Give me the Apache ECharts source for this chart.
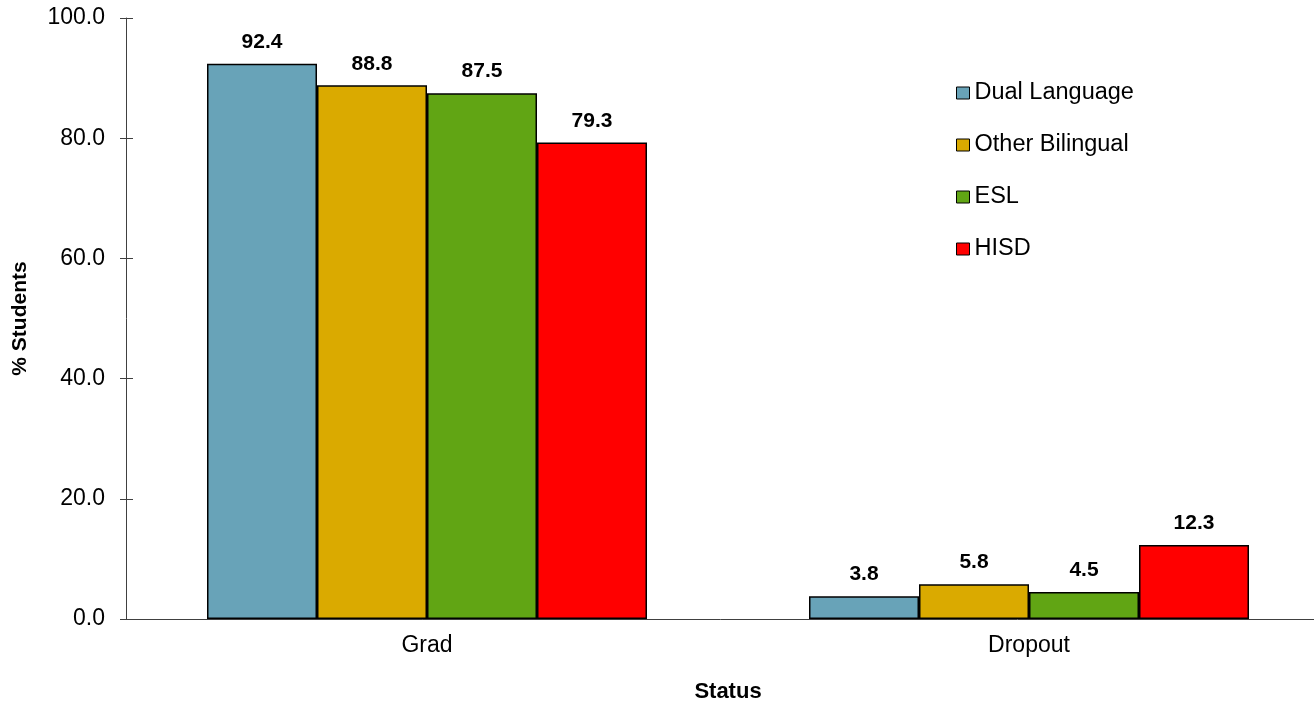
<!DOCTYPE html>
<html>
<head>
<meta charset="utf-8">
<script src="https://cdn.jsdelivr.net/npm/echarts@6/dist/echarts.min.js"></script>
<style>
html, body { margin: 0; padding: 0; background: #ffffff; }
#chart { width: 1314px; height: 704px; }
</style>
</head>
<body>
<div id="chart"></div>
<script>
// Graduation and dropout rates by program
const categories = ['Grad', 'Dropout'];
const seriesNames = ['Dual Language', 'Other Bilingual', 'ESL', 'HISD'];
const dualLanguage = [92.4, 3.8];
const otherBilingual = [88.8, 5.8];
const esl = [87.5, 4.5];
const hisd = [79.3, 12.3];
const yTicks = [0, 20, 40, 60, 80, 100];

const seriesValues = [dualLanguage, otherBilingual, esl, hisd];
const colors = ['#68A3B8', '#DAAA00', '#61A514', '#FF0000'];
const fontFamily = 'Arial, "Liberation Sans", sans-serif';
const axisColor = '#404040';

const chart = echarts.init(document.getElementById('chart'));

const yBase = {
  type: 'value',
  min: yTicks[0],
  max: yTicks[yTicks.length - 1],
  interval: yTicks[1] - yTicks[0],
  splitLine: { show: false }
};

chart.setOption({
  animation: false,
  textStyle: { fontFamily: fontFamily },
  grid: { left: 126, top: 18, width: 1204, height: 601, containLabel: false, outerBoundsMode: 'none' },
  legend: {
    orient: 'vertical',
    left: 951,
    top: 76,
    itemWidth: 13,
    itemHeight: 12,
    itemGap: 28,
    icon: 'rect',
    data: seriesNames,
    textStyle: { fontSize: 23.5, color: '#000', fontFamily: fontFamily },
    itemStyle: { borderColor: '#000', borderWidth: 1 }
  },
  xAxis: {
    type: 'category',
    data: categories,
    name: 'Status',
    nameLocation: 'middle',
    nameGap: 62,
    nameTextStyle: { fontSize: 22, fontWeight: 'bold', color: '#000' },
    axisLine: { lineStyle: { color: axisColor, width: 1 } },
    axisTick: { show: false },
    axisLabel: { fontSize: 23, color: '#000', margin: 15 }
  },
  yAxis: [
    Object.assign({}, yBase, {
      name: '% Students',
      nameLocation: 'middle',
      nameGap: 95,
      nameRotate: 90,
      nameTextStyle: { fontSize: 21, fontWeight: 'bold', color: '#000' },
      axisLine: { show: true, lineStyle: { color: axisColor, width: 1 } },
      axisTick: { show: true, length: 6, lineStyle: { color: axisColor } },
      axisLabel: {
        fontSize: 23,
        color: '#000',
        margin: 21,
        formatter: v => v.toFixed(1)
      }
    }),
    // inner half of the cross ticks
    Object.assign({}, yBase, {
      position: 'left',
      axisLine: { show: false },
      axisTick: { show: true, inside: true, length: 7, lineStyle: { color: axisColor } },
      axisLabel: { show: false }
    })
  ],
  series: seriesNames.map((name, i) => ({
    name: name,
    type: 'bar',
    data: seriesValues[i],
    barWidth: 110,
    barGap: '0%',
    itemStyle: { color: colors[i], borderColor: '#000', borderWidth: 1.5 },
    label: {
      show: true,
      position: 'top',
      distance: 11,
      fontSize: 21,
      fontWeight: 'bold',
      color: '#000',
      formatter: p => p.value.toFixed(1)
    }
  }))
});
</script>
</body>
</html>
